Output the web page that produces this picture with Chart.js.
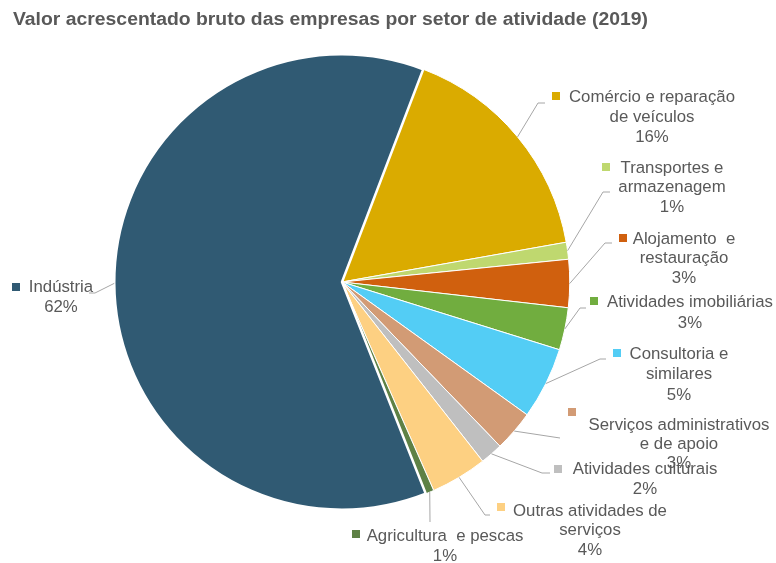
<!DOCTYPE html>
<html><head><meta charset="utf-8">
<script src="https://cdn.jsdelivr.net/npm/chart.js@4"></script>
<style>html,body{margin:0;padding:0;background:#fff}#wrap{width:776px;height:563px}</style>
</head><body><div id="wrap"><canvas id="c" width="776" height="563"></canvas></div>
<script>
const title = 'Valor acrescentado bruto das empresas por setor de atividade (2019)';
const categories = ['Comércio e reparação de veículos','Transportes e armazenagem','Alojamento e restauração','Atividades imobiliárias','Consultoria e similares','Serviços administrativos e de apoio','Atividades culturais','Outras atividades de serviços','Agricultura e pescas','Indústria'];
const values = [16.4, 1.2, 3.4, 3.0, 5.1, 2.9, 1.6, 4.0, 0.6, 61.8];
const labelLines = [
  ['Comércio e reparação','de veículos'],
  ['Transportes e','armazenagem'],
  ['Alojamento  e','restauração'],
  ['Atividades imobiliárias'],
  ['Consultoria e','similares'],
  ['Serviços administrativos','e de apoio'],
  ['Atividades culturais'],
  ['Outras atividades de','serviços'],
  ['Agricultura  e pescas'],
  ['Indústria']
];
const colors = ['#DAAB00','#BFD86F','#D0600E','#71AD3F','#53CDF5','#D29B75','#BFBFBF','#FDD082','#5E8145','#305A73'];

// label layout (text placement only)
const labelLayout = [
  {mx:552,my:92, cx:652,y0:97, lh:20, elbow:[538,103], end:[545,103]},
  {mx:602,my:163,cx:672,y0:168,lh:19.5, elbow:[603,192], end:[610,192]},
  {mx:619,my:234,cx:684,y0:239,lh:19.5, elbow:[605,243], end:[612,243]},
  {mx:590,my:297,cx:690,y0:302,lh:21, elbow:[580,308], end:[586,308]},
  {mx:613,my:349,cx:679,y0:354,lh:20.5, elbow:[600,359], end:[606,359]},
  {mx:568,my:408,cx:679,y0:425,lh:19, elbow:[560,438], end:[560,438]},
  {mx:554,my:465,cx:645,y0:469,lh:20, elbow:[542,473], end:[550,473]},
  {mx:497,my:503,cx:590,y0:511,lh:19.5, elbow:[485,515], end:[490,515]},
  {mx:352,my:530,cx:445,y0:536,lh:20, elbow:[430,522], end:[430,522]},
  {mx:12,my:283, cx:61, y0:287,lh:20, elbow:[95,293], end:[89,293]}
];

const labelPlugin = {
  id:'labels',
  afterDraw(chart){
    const ctx = chart.ctx;
    // title
    ctx.save();
    ctx.fillStyle = '#595959';
    ctx.font = 'bold 18px "Liberation Sans"';
    ctx.textBaseline = 'middle';
    const w = ctx.measureText(title).width;
    ctx.translate(13, 20);
    ctx.scale(635 / w, 1);
    ctx.fillText(title, 0, 0);
    ctx.restore();

    const meta = chart.getDatasetMeta(0);
    const total = values.reduce((a,b)=>a+b,0);
    ctx.save();
    meta.data.forEach((arc, i) => {
      const L = labelLayout[i];
      const mid = (arc.startAngle + arc.endAngle) / 2;
      const R = arc.outerRadius;
      const sx = arc.x + Math.cos(mid) * R, sy = arc.y + Math.sin(mid) * R;
      ctx.strokeStyle = '#A6A6A6';
      ctx.lineWidth = 1;
      ctx.beginPath();
      ctx.moveTo(sx, sy);
      ctx.lineTo(L.elbow[0], L.elbow[1]);
      ctx.lineTo(L.end[0], L.end[1]);
      ctx.stroke();
      ctx.fillStyle = colors[i];
      ctx.fillRect(L.mx, L.my, 8, 8);
      ctx.fillStyle = '#595959';
      ctx.font = '16.8px "Liberation Sans"';
      ctx.textAlign = 'center';
      ctx.textBaseline = 'middle';
      const lines = labelLines[i].concat([Math.round(values[i] / total * 100) + '%']);
      lines.forEach((t, k) => ctx.fillText(t, L.cx, L.y0 + k * L.lh));
    });
    ctx.restore();
  }
};

new Chart(document.getElementById('c'), {
  type: 'pie',
  data: {
    labels: categories,
    datasets: [{
      data: values,
      backgroundColor: colors,
      borderColor: '#FFFFFF',
      borderWidth: [1,1,1,1,1,1,1,1,1,2.5],
      hoverOffset: 0,
      offset: 0
    }]
  },
  options: {
    responsive: false,
    animation: false,
    events: [],
    rotation: 20.9,
    layout: {padding: {left: 113, top: 53, right: 205, bottom: 52}},
    plugins: {legend: {display: false}, tooltip: {enabled: false}, title: {display: false}}
  },
  plugins: [labelPlugin]
});
</script>
</body></html>
